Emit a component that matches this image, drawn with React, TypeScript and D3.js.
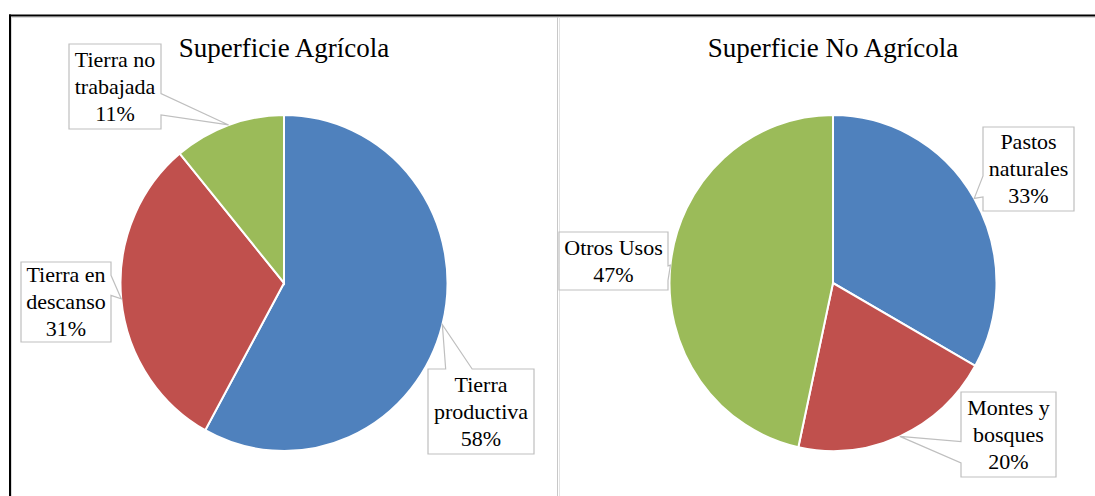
import React from 'react';
import * as d3 from 'd3';

// Superficie Agrícola
const agricolaLabels = [['Tierra', 'productiva'], ['Tierra en', 'descanso'], ['Tierra no', 'trabajada']];
const agricolaValues = [58, 31, 11];

// Superficie No Agrícola
const noAgricolaLabels = [['Pastos', 'naturales'], ['Montes y', 'bosques'], ['Otros Usos']];
const noAgricolaValues = [33.2, 20.2, 46.6];

const sliceColors = ['#4F81BD', '#C0504D', '#9BBB59'];

const W = 1095;
const H = 496;
const FONT = 'Liberation Serif, Times New Roman, DejaVu Serif, serif';

type Box = { x: number; y: number; w: number; h: number };

interface PanelSpec {
  title: string;
  labels: string[][];
  values: number[];
  cx: number;
  cy: number;
  boxes: Box[];
}

const panels: PanelSpec[] = [
  {
    title: 'Superficie Agrícola',
    labels: agricolaLabels,
    values: agricolaValues,
    cx: 284,
    cy: 283,
    boxes: [
      { x: 428, y: 369, w: 106, h: 85 },
      { x: 21, y: 262, w: 90, h: 80 },
      { x: 69, y: 44, w: 92, h: 85 },
    ],
  },
  {
    title: 'Superficie No Agrícola',
    labels: noAgricolaLabels,
    values: noAgricolaValues,
    cx: 833,
    cy: 283,
    boxes: [
      { x: 983, y: 127, w: 91, h: 84 },
      { x: 961, y: 392, w: 95, h: 85 },
      { x: 559, y: 232, w: 109, h: 58 },
    ],
  },
];

const RX = 163.5;
const RY = 168;

// rectangle callout with a wedge pointing at the slice (Excel style)
function calloutPath(b: Box, tip: [number, number]) {
  const { x, y, w, h } = b;
  const cx = x + w / 2;
  const cy = y + h / 2;
  const [tx, ty] = tip;
  const inside = tx >= x && tx <= x + w && ty >= y && ty <= y + h;
  if (inside) return `M${x},${y}H${x + w}V${y + h}H${x}Z`;
  const dx = (tx - cx) / w;
  const dy = (ty - cy) / h;
  if (Math.abs(dx) > Math.abs(dy)) {
    const [b1, b2] = ty < cy ? [y + (h * 2) / 12, y + (h * 5) / 12] : [y + (h * 7) / 12, y + (h * 10) / 12];
    if (dx > 0) {
      return `M${x},${y}H${x + w}V${b1}L${tx},${ty}L${x + w},${b2}V${y + h}H${x}Z`;
    }
    return `M${x},${y}H${x + w}V${y + h}H${x}V${b2}L${tx},${ty}L${x},${b1}Z`;
  }
  const [a1, a2] = tx < cx ? [x + (w * 2) / 12, x + (w * 5) / 12] : [x + (w * 7) / 12, x + (w * 10) / 12];
  if (dy < 0) {
    return `M${x},${y}H${a1}L${tx},${ty}L${a2},${y}H${x + w}V${y + h}H${x}Z`;
  }
  return `M${x},${y}H${x + w}V${y + h}H${a2}L${tx},${ty}L${a1},${y + h}H${x}Z`;
}

const Panel: React.FC<{ spec: PanelSpec }> = ({ spec }) => {
  const pie = d3.pie<number>().sort(null).value(d => d)(spec.values);
  const arc = d3.arc<d3.PieArcDatum<number>>().innerRadius(0).outerRadius(RX);
  const total = d3.sum(spec.values);
  const sy = RY / RX;

  return (
    <g>
      <text
        x={spec.cx}
        y={57}
        textAnchor="middle"
        style={{ fontFamily: FONT, fontSize: 27 }}
        fill="#000"
      >
        {spec.title}
      </text>
      <g transform={`translate(${spec.cx},${spec.cy}) scale(1,${sy})`}>
        {pie.map((d, i) => (
          <path
            key={i}
            d={arc(d) || ''}
            fill={sliceColors[i]}
            stroke="#fff"
            strokeWidth={2}
          />
        ))}
      </g>
      {pie.map((d, i) => {
        const mid = (d.startAngle + d.endAngle) / 2;
        const tip: [number, number] = [
          spec.cx + RX * Math.sin(mid),
          spec.cy - RY * Math.cos(mid),
        ];
        const b = spec.boxes[i];
        const lines = [...spec.labels[i], `${Math.round((d.value / total) * 100)}%`];
        const n = lines.length;
        return (
          <g key={`l${i}`}>
            <path d={calloutPath(b, tip)} fill="#fff" stroke="#BFBFBF" strokeWidth={1.2} />
            {lines.map((t, j) => (
              <text
                key={j}
                x={b.x + b.w / 2}
                y={b.y + b.h / 2 + (j - (n - 1) / 2) * 27}
                dy="0.34em"
                textAnchor="middle"
                style={{ fontFamily: FONT, fontSize: 22 }}
                fill="#000"
              >
                {t}
              </text>
            ))}
          </g>
        );
      })}
    </g>
  );
};

const App: React.FC = () => {
  return (
    <svg
      width={W}
      height={H}
      style={{ position: 'absolute', left: 0, top: 0, background: '#fff' }}
    >
      {/* panel borders */}
      <line x1={11} x2={W} y1={17.5} y2={17.5} stroke="#D9D9D9" strokeWidth={1} />
      <line x1={11.5} x2={11.5} y1={17} y2={H} stroke="#D9D9D9" strokeWidth={1} />
      <line x1={557.5} x2={557.5} y1={17} y2={H} stroke="#C8C8C8" strokeWidth={1} />
      <line x1={559.5} x2={559.5} y1={17} y2={H} stroke="#E3E3E3" strokeWidth={1} />
      {/* outer frame */}
      <line x1={9} x2={W} y1={15.5} y2={15.5} stroke="#000" strokeWidth={2} />
      <line x1={10} x2={10} y1={14.5} y2={H} stroke="#000" strokeWidth={2} />
      {panels.map((p, i) => (
        <Panel key={i} spec={p} />
      ))}
    </svg>
  );
};

export default App;
